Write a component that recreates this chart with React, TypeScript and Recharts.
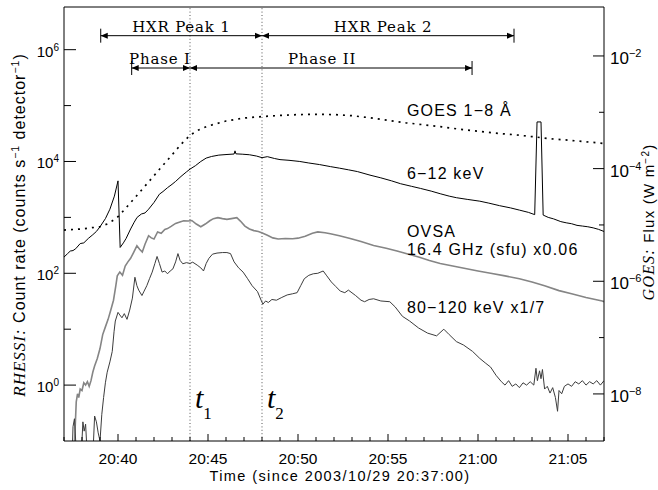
import React from 'react';
import { LineChart, Line, XAxis, YAxis, ReferenceLine, ReferenceDot } from 'recharts';

// time axis: minutes since 2003/10/29 20:37:00
const timeTicks = [0, 1, 2, 3, 4, 5, 6, 7, 8, 9, 10, 11, 12, 13, 14, 15, 16, 17, 18, 19, 20, 21, 22, 23, 24, 25, 26, 27, 28, 29, 30];
const labeledTimes = [3, 8, 13, 18, 23, 28];
const timeLabels = ['20:40', '20:45', '20:50', '20:55', '21:00', '21:05'];
const countTicks = [1, 10, 100, 1e3, 1e4, 1e5, 1e6];
const fluxTicks = [1e-8, 1e-7, 1e-6, 1e-5, 1e-4, 1e-3, 1e-2];

const t1 = 7;
const t2 = 11;
const hxrPeak1 = [2.04, t2];
const hxrPeak2 = [t2, 25];
const phase1 = [3.76, t1];
const phase2 = [t1, 22.67];
const hxrRowY = 1.78e6;
const phaseRowY = 4.7e5;

// RHESSI 6-12 keV (counts s^-1 detector^-1)
const lowEnergy: [number, number][] = [
  [0, 195], [0.2, 225], [0.35, 250], [0.5, 255], [0.65, 275], [0.9, 340], [1.1, 350], [1.35, 420],
  [1.6, 490], [1.8, 560], [2.0, 680], [2.3, 950], [2.55, 1400], [2.8, 2400], [3.0, 4500], [3.12, 290],
  [3.3, 350], [3.45, 420], [3.7, 620], [3.9, 820], [4.06, 1000], [4.3, 1150], [4.5, 1200], [4.7, 1400],
  [5.0, 1850], [5.3, 2600], [5.5, 2900], [5.75, 3400], [6.0, 3900], [6.2, 4400], [6.5, 5400], [6.8, 6500],
  [7.0, 7300], [7.3, 8400], [7.6, 10000], [7.9, 11500], [8.2, 12300], [8.6, 13000], [9.0, 13300],
  [9.45, 13600], [9.5, 15500], [9.55, 13700], [9.9, 13500], [10.3, 13200], [10.7, 12500], [11.0, 11700],
  [11.3, 12200], [11.7, 11300], [12.0, 10800], [12.5, 10500], [13.1, 10000], [13.6, 9400], [14.2, 8800],
  [14.8, 8100], [15.3, 7600], [15.8, 7100], [16.3, 6600], [17.0, 5700], [17.6, 5100], [18.2, 4500],
  [18.7, 4000], [19.3, 3600], [19.8, 3300], [20.4, 2950], [20.9, 2650], [21.4, 2400], [21.8, 2250],
  [22.4, 2100], [23.1, 1950], [23.6, 1800], [24.2, 1620], [24.8, 1480], [25.3, 1350], [25.8, 1230],
  [26.15, 1120], [26.28, 51000], [26.5, 51000], [26.62, 1100], [26.9, 1000], [27.2, 940], [27.6, 840],
  [27.9, 800], [28.2, 770], [28.5, 720], [28.8, 700], [29.1, 680], [29.4, 650], [29.7, 610], [30, 560],
];

// GOES 1-8 A flux (W m^-2), right axis
const goesFlux: [number, number][] = [
  [0, 8.1e-6], [1, 8.5e-6], [2, 9.3e-6], [2.5, 1.07e-5], [3, 1.4e-5], [3.5, 2.1e-5], [4, 3.2e-5],
  [4.5, 4.9e-5], [5, 7.5e-5], [5.5, 1.15e-4], [6, 1.75e-4], [6.5, 2.7e-4], [7, 3.9e-4], [7.5, 4.9e-4],
  [8, 5.7e-4], [9, 7.0e-4], [10, 7.9e-4], [11, 8.4e-4], [12, 8.8e-4], [13, 9.1e-4], [14, 9.2e-4],
  [15, 9.1e-4], [16, 8.7e-4], [17, 8.0e-4], [18, 7.2e-4], [19, 6.5e-4], [20, 6.0e-4], [21, 5.5e-4],
  [22, 5.0e-4], [23, 4.6e-4], [24, 4.25e-4], [25, 4.0e-4], [26, 3.7e-4], [27, 3.4e-4], [28, 3.2e-4],
  [29, 3.0e-4], [30, 2.8e-4],
];

// OVSA 16.4 GHz (sfu) x0.06
const ovsa: [number, number][] = [
  [0.55, 0.05], [0.68, 0.5], [0.75, 0.7], [0.82, 0.6], [0.9, 0.85], [1.0, 0.8], [1.1, 1.1], [1.2, 1.0],
  [1.3, 1.15], [1.4, 0.95], [1.5, 1.2], [1.6, 1.7], [1.7, 2.2], [1.85, 3.0], [2.0, 4.5], [2.15, 8],
  [2.3, 11], [2.45, 15], [2.6, 22], [2.75, 33], [2.88, 60], [2.96, 90], [3.1, 105], [3.25, 92],
  [3.4, 135], [3.55, 160], [3.7, 185], [3.85, 230], [4.05, 310], [4.2, 270], [4.35, 240], [4.5, 330],
  [4.7, 470], [4.85, 430], [5.0, 410], [5.2, 550], [5.4, 520], [5.6, 610], [5.75, 630], [5.95, 690],
  [6.2, 780], [6.4, 820], [6.65, 870], [6.9, 860], [7.1, 880], [7.35, 760], [7.6, 680], [7.85, 760],
  [8.1, 870], [8.3, 950], [8.55, 990], [8.8, 950], [9.05, 920], [9.3, 950], [9.6, 990], [9.8, 860],
  [10.05, 700], [10.3, 620], [10.55, 580], [10.8, 560], [11.05, 520], [11.3, 480], [11.6, 430],
  [11.9, 410], [12.3, 420], [12.7, 415], [13.0, 425], [13.4, 460], [13.8, 520], [14.1, 550], [14.5, 530],
  [14.8, 510], [15.3, 470], [15.9, 420], [16.5, 370], [17.2, 315], [17.9, 280], [18.5, 250], [19.0, 225],
  [19.7, 195], [20.3, 170], [20.9, 150], [21.6, 135], [22.3, 122], [23.0, 110], [23.7, 100], [24.5, 90],
  [25.3, 80], [26.0, 70], [26.7, 60], [27.5, 49], [28.2, 43], [29.0, 37], [29.9, 32], [30, 31],
];

// RHESSI 80-120 keV x1/7
const highEnergy: [number, number][] = [
  [0.45, 0.05], [0.5, 0.18], [0.58, 0.25], [0.65, 0.1], [0.7, 0.05], [0.95, 0.05], [1.05, 0.22],
  [1.12, 0.15], [1.2, 0.2], [1.3, 0.05], [1.6, 0.05], [1.7, 0.28], [1.8, 0.22], [1.9, 0.14], [2.0, 0.1],
  [2.1, 0.3], [2.2, 0.6], [2.3, 1.1], [2.4, 1.7], [2.55, 2.6], [2.68, 4], [2.78, 9], [2.85, 14], [3.0, 20],
  [3.1, 18], [3.22, 16], [3.35, 19], [3.5, 15], [3.65, 22], [3.8, 36], [3.94, 85], [4.05, 60], [4.15, 50],
  [4.33, 40], [4.45, 48], [4.6, 60], [4.75, 80], [4.9, 105], [5.05, 150], [5.17, 200], [5.3, 150],
  [5.45, 105], [5.6, 110], [5.75, 98], [5.9, 110], [6.05, 120], [6.2, 160], [6.33, 225], [6.45, 170],
  [6.6, 148], [6.8, 155], [7.0, 150], [7.15, 158], [7.4, 140], [7.6, 125], [7.75, 110], [7.9, 150],
  [8.05, 185], [8.25, 220], [8.5, 230], [8.8, 235], [9.05, 235], [9.25, 225], [9.45, 160], [9.7, 125],
  [9.95, 105], [10.2, 80], [10.45, 60], [10.75, 47], [10.95, 33], [11.05, 28], [11.2, 32], [11.35, 30],
  [11.55, 34], [11.8, 33], [12.1, 37], [12.4, 41], [12.7, 43], [12.95, 45], [13.15, 60], [13.35, 80],
  [13.6, 92], [13.85, 98], [14.1, 100], [14.4, 110], [14.6, 90], [14.85, 70], [15.1, 58], [15.35, 48],
  [15.6, 45], [15.8, 50], [16.2, 40], [16.5, 33], [16.7, 31], [16.95, 34], [17.2, 35], [17.6, 32],
  [18.1, 31], [18.4, 25], [18.8, 17], [19.2, 14], [19.7, 10.5], [20.2, 8.5], [20.7, 7.6], [21.1, 10],
  [21.4, 8], [21.8, 6], [22.2, 5.2], [22.7, 4], [23.1, 3.0], [23.4, 2.5], [23.7, 2.1], [24.0, 1.5],
  [24.3, 1.15], [24.5, 1.0], [24.7, 1.2], [24.9, 0.95], [25.1, 1.05], [25.3, 0.9], [25.5, 1.1], [25.7, 1.0],
  [25.9, 1.15], [26.1, 1.0], [26.22, 2.0], [26.3, 1.2], [26.42, 1.8], [26.5, 1.3], [26.58, 1.9],
  [26.7, 0.85], [26.85, 0.95], [27.0, 0.72], [27.15, 0.9], [27.3, 0.6], [27.42, 0.34], [27.5, 0.8],
  [27.65, 0.7], [27.8, 0.95], [28.0, 1.05], [28.2, 0.95], [28.4, 1.15], [28.6, 1.05], [28.8, 1.2],
  [29.0, 1.0], [29.2, 1.15], [29.4, 1.05], [29.6, 1.2], [29.8, 1.0], [30, 1.2],
];

// where the curve labels sit (time, left-axis value)
const labelT = 19.05;
const goesLabelY = 83200;
const lowLabelY = 6190;
const ovsaLabelY = 565;
const ovsaLabel2Y = 269;
const highLabelY = 24.7;

const SANS = '"Liberation Sans", Arial, sans-serif';
const SERIF = '"DejaVu Serif", serif';
const TIMES = '"Liberation Serif", serif';

const toRows = (pts: [number, number][]) => pts.map(([t, v]) => ({ t, v }));

const BottomTick = ({ x, y, payload }: any) => {
  const i = labeledTimes.indexOf(payload.value);
  return (
    <g>
      <line x1={x} x2={x} y1={y} y2={y - (i >= 0 ? 7 : 4)} stroke="#000" />
      {i >= 0 && (
        <text x={x} y={y + 23} textAnchor="middle" fontFamily={SANS} fontSize={15.5} fill="#000">
          {timeLabels[i]}
        </text>
      )}
    </g>
  );
};

const TopTick = ({ x, y, payload }: any) => {
  const major = labeledTimes.includes(payload.value);
  return <line x1={x} x2={x} y1={y} y2={y + (major ? 9 : 5)} stroke="#000" />;
};

const LeftTick = ({ x, y, payload }: any) => {
  const exp = Math.round(Math.log10(payload.value));
  const major = exp % 2 === 0;
  return (
    <g>
      <line x1={x} x2={x + (major ? 12 : 7)} y1={y} y2={y} stroke="#000" />
      {major && (
        <text x={x - 5} y={y + 7} textAnchor="end" fontFamily={SANS} fontSize={15} fill="#000">
          10<tspan dy={-6} fontSize={10}>{exp}</tspan>
        </text>
      )}
    </g>
  );
};

const RightTick = ({ x, y, payload }: any) => {
  const exp = Math.round(Math.log10(payload.value));
  const major = exp % 2 === 0;
  return (
    <g>
      <line x1={x} x2={x - (major ? 11 : 5)} y1={y} y2={y} stroke="#000" />
      {major && (
        <text x={x + 6} y={y + 8} fontFamily={SANS} fontSize={17} fill="#000">
          10<tspan dy={-7} fontSize={11}>{'\u2212' + -exp}</tspan>
        </text>
      )}
    </g>
  );
};

const LeftTitle = ({ viewBox }: any) => {
  const cx = viewBox.x + 25;
  const cy = viewBox.y + viewBox.height / 2 + 1;
  return (
    <text x={cx} y={cy} transform={`rotate(-90 ${cx} ${cy})`} textAnchor="middle" fontFamily={SANS} fontSize={16} letterSpacing={1} fill="#000">
      <tspan fontFamily={TIMES} fontStyle="italic" fontSize={17}>RHESSI:</tspan>
      <tspan>{' Count rate (counts s'}</tspan>
      <tspan dy={-6} fontSize={10.5}>{'\u22121'}</tspan>
      <tspan dy={6}>{' detector'}</tspan>
      <tspan dy={-6} fontSize={10.5}>{'\u22121'}</tspan>
      <tspan dy={6}>)</tspan>
    </text>
  );
};

const RightTitle = ({ viewBox }: any) => {
  const cx = viewBox.x + 50;
  const cy = viewBox.y + viewBox.height / 2 - 2;
  return (
    <text x={cx} y={cy} transform={`rotate(-90 ${cx} ${cy})`} textAnchor="middle" fontFamily={SANS} fontSize={15} letterSpacing={1.2} fill="#000">
      <tspan fontFamily={TIMES} fontStyle="italic" fontSize={16}>GOES:</tspan>
      <tspan>{' Flux (W m'}</tspan>
      <tspan dy={-5} fontSize={10}>{'\u22122'}</tspan>
      <tspan dy={5}>)</tspan>
    </text>
  );
};

const BottomTitle = ({ viewBox }: any) => (
  <text x={viewBox.x + viewBox.width / 2 + 6} y={viewBox.y + 40} textAnchor="middle" fontFamily={SANS} fontSize={14.5} letterSpacing={1.4} fill="#000">
    Time (since 2003/10/29 20:37:00)
  </text>
);

const tLabel = (sub: string) => ({ viewBox }: any) => (
  <text x={viewBox.x + 5} y={viewBox.y + viewBox.height - 33} fontFamily={TIMES} fontStyle="italic" fontSize={30} fill="#000">
    t<tspan dy={11} fontSize={17} fontStyle="normal">{sub}</tspan>
  </text>
);

const arrowShape = (label: string, dx: number, barLeft: boolean, barRight: boolean) => (p: any) => {
  const { x1, x2, y1 } = p;
  const y = y1;
  const head = 7;
  const half = 3;
  return (
    <g>
      <line x1={x1} y1={y} x2={x2} y2={y} stroke="#000" strokeWidth={1} />
      <path d={`M${x1},${y}L${x1 + head},${y - half}L${x1 + head},${y + half}Z`} fill="#000" />
      <path d={`M${x2},${y}L${x2 - head},${y - half}L${x2 - head},${y + half}Z`} fill="#000" />
      {barLeft && <line x1={x1} x2={x1} y1={y - 7} y2={y + 7} stroke="#000" />}
      {barRight && <line x1={x2} x2={x2} y1={y - 7} y2={y + 7} stroke="#000" />}
      <text x={(x1 + x2) / 2 + dx} y={y - 4} textAnchor="middle" fontFamily={SERIF} fontSize={15} letterSpacing={0.8} fill="#000">
        {label}
      </text>
    </g>
  );
};

const tag = (text: string) => (p: any) => (
  <text x={p.cx} y={p.cy + 6} fontFamily={SANS} fontSize={16} letterSpacing={1.2} fill="#000">
    {text}
  </text>
);

export default function App() {
  return (
    <div style={{ position: 'absolute', left: 0, top: 0, width: 658, height: 490, background: '#fff' }}>
      <LineChart width={658} height={490} margin={{ top: 0, right: 0, bottom: 0, left: 0 }}>
        <XAxis
          xAxisId="b"
          dataKey="t"
          type="number"
          domain={[0, 30]}
          allowDataOverflow
          ticks={timeTicks}
          interval={0}
          tickSize={0}
          tickMargin={0}
          tickLine={false}
          tick={BottomTick}
          height={49}
          stroke="#000"
          label={{ content: BottomTitle }}
        />
        <XAxis
          xAxisId="top"
          orientation="top"
          type="number"
          domain={[0, 30]}
          allowDataOverflow
          ticks={timeTicks}
          interval={0}
          tickSize={0}
          tickMargin={0}
          tickLine={false}
          tick={TopTick}
          height={7}
          stroke="#000"
        />
        <YAxis
          yAxisId="l"
          type="number"
          scale="log"
          domain={[0.1, 5.8e6]}
          allowDataOverflow
          ticks={countTicks}
          interval={0}
          tickSize={0}
          tickMargin={0}
          tickLine={false}
          tick={LeftTick}
          width={64}
          stroke="#000"
          label={{ content: LeftTitle }}
        />
        <YAxis
          yAxisId="r"
          orientation="right"
          type="number"
          scale="log"
          domain={[1.46e-9, 7.4e-2]}
          allowDataOverflow
          ticks={fluxTicks}
          interval={0}
          tickSize={0}
          tickMargin={0}
          tickLine={false}
          tick={RightTick}
          width={54}
          stroke="#000"
          label={{ content: RightTitle }}
        />

        <ReferenceLine x={t1} xAxisId="b" yAxisId="l" stroke="#555" strokeDasharray="1 2.4" label={{ content: tLabel('1') }} />
        <ReferenceLine x={t2} xAxisId="b" yAxisId="l" stroke="#555" strokeDasharray="1 2.4" label={{ content: tLabel('2') }} />

        <Line xAxisId="b" yAxisId="r" data={toRows(goesFlux)} dataKey="v" type="linear" dot={false} stroke="#000" strokeWidth={1.7} strokeDasharray="2 5" isAnimationActive={false} />
        <Line xAxisId="b" yAxisId="l" data={toRows(lowEnergy)} dataKey="v" type="linear" dot={false} stroke="#000" strokeWidth={1} isAnimationActive={false} />
        <Line xAxisId="b" yAxisId="l" data={toRows(ovsa)} dataKey="v" type="linear" dot={false} stroke="#858585" strokeWidth={1.6} isAnimationActive={false} />
        <Line xAxisId="b" yAxisId="l" data={toRows(highEnergy)} dataKey="v" type="linear" dot={false} stroke="#3c3c3c" strokeWidth={1} isAnimationActive={false} />

        <ReferenceLine xAxisId="b" yAxisId="l" ifOverflow="visible" segment={[{ x: hxrPeak1[0], y: hxrRowY }, { x: hxrPeak1[1], y: hxrRowY }]} shape={arrowShape('HXR Peak 1', 0, true, false)} />
        <ReferenceLine xAxisId="b" yAxisId="l" ifOverflow="visible" segment={[{ x: hxrPeak2[0], y: hxrRowY }, { x: hxrPeak2[1], y: hxrRowY }]} shape={arrowShape('HXR Peak 2', -5, false, true)} />
        <ReferenceLine xAxisId="b" yAxisId="l" ifOverflow="visible" segment={[{ x: phase1[0], y: phaseRowY }, { x: phase1[1], y: phaseRowY }]} shape={arrowShape('Phase I', -1, true, false)} />
        <ReferenceLine xAxisId="b" yAxisId="l" ifOverflow="visible" segment={[{ x: phase2[0], y: phaseRowY }, { x: phase2[1], y: phaseRowY }]} shape={arrowShape('Phase II', -9, false, true)} />

        <ReferenceDot xAxisId="b" yAxisId="l" x={labelT} y={goesLabelY} r={0} shape={tag('GOES 1\u22128 \u00c5')} />
        <ReferenceDot xAxisId="b" yAxisId="l" x={labelT} y={lowLabelY} r={0} shape={tag('6\u221212 keV')} />
        <ReferenceDot xAxisId="b" yAxisId="l" x={labelT} y={ovsaLabelY} r={0} shape={tag('OVSA')} />
        <ReferenceDot xAxisId="b" yAxisId="l" x={labelT} y={ovsaLabel2Y} r={0} shape={tag('16.4 GHz (sfu) x0.06')} />
        <ReferenceDot xAxisId="b" yAxisId="l" x={labelT} y={highLabelY} r={0} shape={tag('80\u2212120 keV x1/7')} />
      </LineChart>
    </div>
  );
}
